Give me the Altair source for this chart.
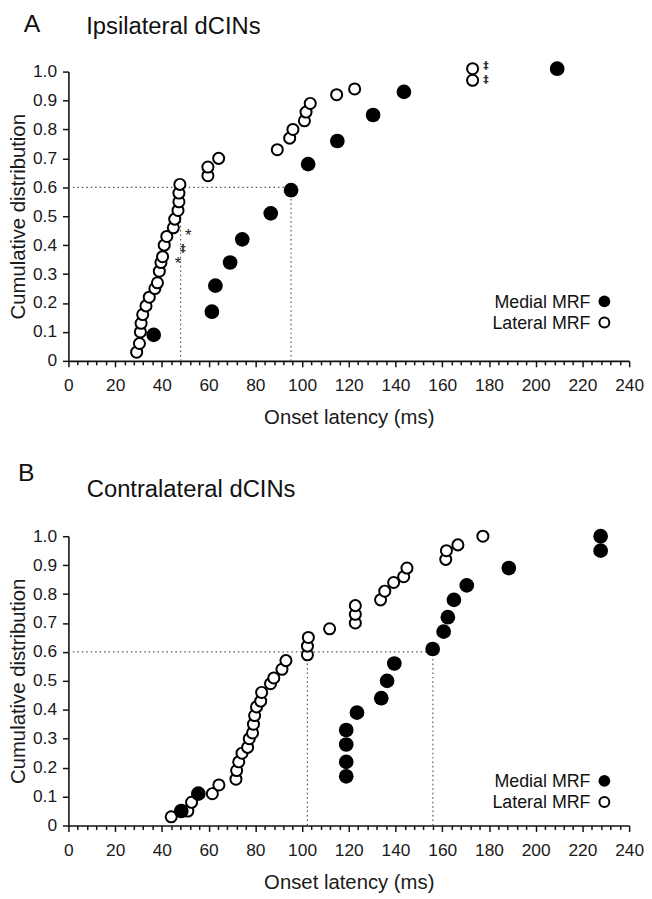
import altair as alt
import pandas as pd

FONT = "Liberation Sans"
W, H = 566, 292

XTICKS = list(range(0, 241, 4))
YTICKS = [0, 0.1, 0.2, 0.3, 0.4, 0.5, 0.6, 0.7, 0.8, 0.9, 1.0]

# ---------------- Panel A: Ipsilateral dCINs ----------------
a_lat_x = [29.2, 30.4, 30.8, 31.1, 31.8, 33.2, 34.6, 37.0, 38.1, 38.9, 39.6, 40.3, 41.0,
           42.1, 44.9, 45.5, 46.9, 47.3, 47.3, 47.7, 59.7, 59.7, 64.3, 89.4, 94.7, 96.1,
           101.0, 101.7, 103.5, 114.8, 122.5, 173.0, 173.0]
a_lat_y = [0.03, 0.06, 0.10, 0.13, 0.16, 0.19, 0.22, 0.25, 0.27, 0.31, 0.34, 0.36, 0.40,
           0.43, 0.46, 0.49, 0.52, 0.55, 0.58, 0.61, 0.64, 0.67, 0.70, 0.73, 0.77, 0.80,
           0.83, 0.86, 0.89, 0.92, 0.94, 0.97, 1.01]
a_med_x = [36.5, 61.4, 62.9, 69.2, 74.4, 86.6, 95.3, 102.6, 115.1, 130.4, 143.6, 209.2]
a_med_y = [0.09, 0.17, 0.26, 0.34, 0.42, 0.51, 0.59, 0.68, 0.76, 0.85, 0.93, 1.01]
a_ref_x1 = [0, 48.0, 95.3]
a_ref_x2 = [95.3, 48.0, 95.3]
a_ref_y1 = [0.6, 0, 0]
a_ref_y2 = [0.6, 0.6, 0.6]
a_star_x = [51.3, 46.9]
a_star_y = [0.455, 0.357]
a_dag_x = [49.0, 178.7, 178.7]
a_dag_y = [0.398, 1.03, 0.98]

# ---------------- Panel B: Contralateral dCINs ----------------
b_lat_x = [44.0, 51.1, 52.7, 61.6, 64.4, 71.7, 72.0, 72.9, 74.3, 76.7, 77.4, 78.8, 79.2,
           79.7, 80.5, 82.3, 82.7, 86.5, 87.9, 91.4, 93.1, 102.3, 102.3, 102.7, 111.8,
           122.8, 122.8, 122.8, 133.6, 135.4, 139.2, 143.5, 144.9, 161.5, 161.8, 166.7, 177.4]
b_lat_y = [0.03, 0.05, 0.08, 0.11, 0.14, 0.16, 0.19, 0.22, 0.25, 0.27, 0.30, 0.32, 0.35,
           0.38, 0.41, 0.43, 0.46, 0.49, 0.51, 0.54, 0.57, 0.59, 0.62, 0.65, 0.68,
           0.70, 0.73, 0.76, 0.78, 0.81, 0.84, 0.86, 0.89, 0.92, 0.95, 0.97, 1.0]
b_med_x = [48.3, 55.6, 118.9, 118.9, 118.9, 118.9, 123.5, 133.9, 136.4, 139.5, 155.9,
           160.6, 162.4, 165.0, 170.5, 188.5, 227.8, 227.8]
b_med_y = [0.05, 0.11, 0.17, 0.22, 0.28, 0.33, 0.39, 0.44, 0.50, 0.56, 0.61,
           0.67, 0.72, 0.78, 0.83, 0.89, 0.95, 1.0]
b_ref_x1 = [0, 102.3, 156.0]
b_ref_x2 = [156.0, 102.3, 156.0]
b_ref_y1 = [0.6, 0, 0]
b_ref_y2 = [0.6, 0.6, 0.6]

legend_labels = ["Medial MRF", "Lateral MRF"]
x_title = "Onset latency (ms)"
y_title = "Cumulative distribution"

XAXIS = alt.Axis(
    values=XTICKS,
    labelExpr="datum.value % 20 === 0 ? datum.label : ''",
    tickSize={"condition": {"test": "datum.value % 20 === 0", "value": 6}, "value": 4},
    labelPadding=10, titlePadding=14, title=x_title,
    labelOverlap=False, labelFlush=False,
)
YAXIS = alt.Axis(
    values=YTICKS,
    labelExpr="datum.value === 0 ? '0' : format(datum.value, '.1f')",
    tickSize=6, labelPadding=6, titlePadding=4, title=y_title,
    labelOverlap=False, labelFlush=False,
)


def xenc(field):
    return alt.X(field, type="quantitative",
                 scale=alt.Scale(domain=[0, 240], nice=False), axis=XAXIS)


def yenc(field):
    return alt.Y(field, type="quantitative",
                 scale=alt.Scale(domain=[0, 1], nice=False), axis=YAXIS)


ONE = alt.Data(values=[{"k": 0}])


def label(text, x, y, size, align="left", weight="normal"):
    return alt.Chart(ONE).mark_text(
        text=text, font=FONT, fontSize=size, align=align, baseline="alphabetic",
        fontWeight=weight, color="#111"
    ).encode(x=alt.value(x), y=alt.value(y))


def legend_dot(x, y, filled):
    if filled:
        m = alt.Chart(ONE).mark_point(shape="circle", filled=True, color="black",
                                      size=140, opacity=1, strokeWidth=0)
    else:
        m = alt.Chart(ONE).mark_point(shape="circle", filled=True, fill="white",
                                      stroke="black", strokeWidth=2, size=100, opacity=1)
    return m.encode(x=alt.value(x), y=alt.value(y))


def panel(lat_x, lat_y, med_x, med_y, rx1, rx2, ry1, ry2,
          letter, lpos, title, tpos, legy, extra):
    lat = pd.DataFrame({"x": lat_x, "y": lat_y})
    med = pd.DataFrame({"x": med_x, "y": med_y})
    refs = pd.DataFrame({"x": rx1, "x2": rx2, "y": ry1, "y2": ry2})
    rules = alt.Chart(refs).mark_rule(
        color="#555", strokeWidth=1.2, strokeDash=[1.5, 3]
    ).encode(x=xenc("x"), x2="x2", y=yenc("y"), y2="y2")
    open_pts = alt.Chart(lat).mark_point(
        shape="circle", filled=True, fill="white", stroke="black",
        strokeWidth=2, size=125, opacity=1
    ).encode(x=xenc("x"), y=yenc("y"))
    solid_pts = alt.Chart(med).mark_point(
        shape="circle", filled=True, size=220, color="black", opacity=1, strokeWidth=0
    ).encode(x=xenc("x"), y=yenc("y"))
    layers = [rules, open_pts, solid_pts] + extra + [
        label(letter, lpos[0], lpos[1], 25),
        label(title, tpos[0], tpos[1], 24),
        label(legend_labels[0], 527, legy[0] + 6.4, 18, align="right"),
        legend_dot(541, legy[0], True),
        label(legend_labels[1], 527, legy[1] + 6.4, 18, align="right"),
        legend_dot(541, legy[1], False),
    ]
    return alt.layer(*layers).properties(width=W, height=H)


stars = alt.Chart(pd.DataFrame({"x": a_star_x, "y": a_star_y})).mark_text(
    text="*", font=FONT, fontSize=17, dy=7, color="#222"
).encode(x=xenc("x"), y=yenc("y"))
daggers = alt.Chart(pd.DataFrame({"x": a_dag_x, "y": a_dag_y})).mark_text(
    text="‡", font="DejaVu Sans", fontSize=11, fontWeight="bold", dy=3, color="#333"
).encode(x=xenc("x"), y=yenc("y"))

panel_a = panel(a_lat_x, a_lat_y, a_med_x, a_med_y, a_ref_x1, a_ref_x2, a_ref_y1, a_ref_y2,
                "A", (-45, -40), "Ipsilateral dCINs", (18, -38), (232, 253.3),
                [stars, daggers])
panel_b = panel(b_lat_x, b_lat_y, b_med_x, b_med_y, b_ref_x1, b_ref_x2, b_ref_y1, b_ref_y2,
                "B", (-51, -56), "Contralateral dCINs", (18.5, -40), (247, 268.3), [])

chart = alt.vconcat(panel_a, panel_b, spacing=33).properties(padding=0).configure_view(
    stroke=None
).configure_axis(
    grid=False, domainColor="#111", domainWidth=1.6, tickColor="#111", tickWidth=1.5,
    labelFont=FONT, labelFontSize=17.5, labelColor="#1a1a1a",
    titleFont=FONT, titleFontSize=20.5, titleFontWeight="normal", titleColor="#1a1a1a",
)

chart.save("out.html", embed_options={"renderer": "svg", "actions": False})
